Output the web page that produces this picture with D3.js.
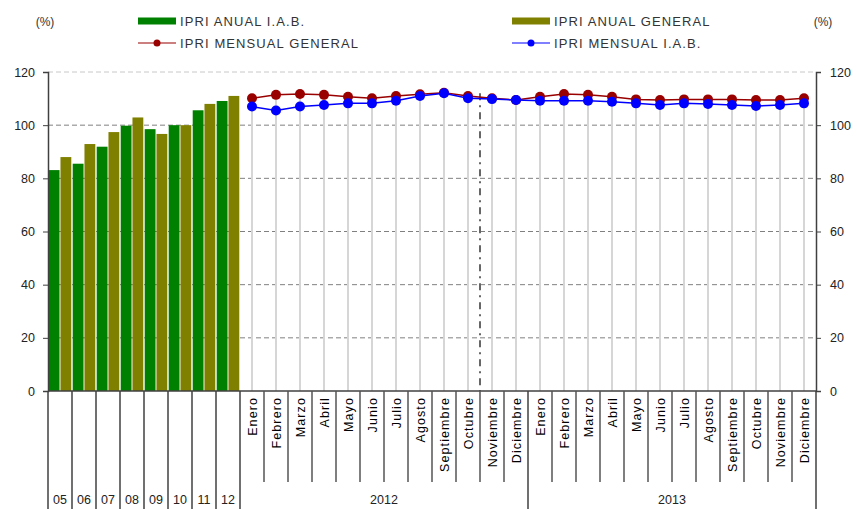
<!DOCTYPE html>
<html>
<head>
<meta charset="utf-8">
<script src="https://cdn.jsdelivr.net/npm/d3@7"></script>
<style>
  body { margin: 0; background: #fff; }
  svg { font-family: "Liberation Sans", Arial, sans-serif; }
  .axis path, .axis line { stroke: #404040; }
  .axis text { fill: #222; font-size: 12.5px; }
</style>
</head>
<body>
<div id="chart"></div>
<script>
// annual index, base 2010 = 100
const years = ["05", "06", "07", "08", "09", "10", "11", "12"];
const anualIAB = [83.1, 85.5, 91.9, 99.8, 98.5, 100, 105.6, 109.1];
const anualGeneral = [88.0, 92.9, 97.4, 102.9, 96.7, 100, 108.0, 111.0];

// monthly index 2012 - 2013
const monthNames = ["Enero", "Febrero", "Marzo", "Abril", "Mayo", "Junio", "Julio",
  "Agosto", "Septiembre", "Octubre", "Noviembre", "Diciembre"];
const periods = ["2012", "2013"];
const mensualGeneral = [110.1, 111.4, 111.7, 111.4, 110.7, 110.1, 111.0, 111.6, 112.2, 111.0, 110.1, 109.5,
  110.7, 111.7, 111.4, 110.7, 109.7, 109.5, 109.7, 109.7, 109.7, 109.5, 109.5, 110.1];
const mensualIAB = [107.0, 105.5, 107.0, 107.6, 108.2, 108.2, 109.2, 111.0, 112.0, 110.1, 109.8, 109.5,
  109.2, 109.2, 109.2, 108.8, 108.2, 107.6, 108.2, 108.0, 107.6, 107.2, 107.6, 108.2];
const yTicks = [0, 20, 40, 60, 80, 100, 120];

const width = 857, height = 509;
const margin = {top: 72, right: 41, bottom: 118, left: 48};

const svg = d3.select("#chart").append("svg")
    .attr("width", width)
    .attr("height", height);

const months = [];
periods.forEach(p => monthNames.forEach(m => months.push(m + " " + p)));
const slots = years.concat(months);

const x = d3.scaleBand()
    .domain(slots)
    .range([margin.left, width - margin.right]);
const y = d3.scaleLinear()
    .domain([0, 120])
    .range([height - margin.bottom, margin.top]);
const xSub = d3.scaleBand()
    .domain(["iab", "gen"])
    .range([0, x.bandwidth()])
    .paddingInner(0.08)
    .paddingOuter(0.06);

const x0 = margin.left, x1 = width - margin.right, yBase = y(0);

// gridlines
svg.append("g")
  .selectAll("line")
  .data(yTicks.filter(d => d > 0))
  .join("line")
    .attr("x1", x0).attr("x2", x1)
    .attr("y1", d => y(d)).attr("y2", d => y(d))
    .attr("stroke", d => d === 120 ? "#c8c8c8" : "#808080")
    .attr("stroke-width", 1)
    .attr("stroke-dasharray", "5,3");

// drop lines under monthly points
svg.append("g")
  .selectAll("line")
  .data(months)
  .join("line")
    .attr("x1", d => x(d) + x.bandwidth() / 2)
    .attr("x2", d => x(d) + x.bandwidth() / 2)
    .attr("y1", (d, i) => y(Math.max(mensualGeneral[i], mensualIAB[i])))
    .attr("y2", yBase)
    .attr("stroke", "#d6d6d6")
    .attr("stroke-width", 2);

// dash-dot separator between octubre and noviembre 2012
svg.append("line")
    .attr("x1", x("Noviembre 2012")).attr("x2", x("Noviembre 2012"))
    .attr("y1", y(112)).attr("y2", yBase)
    .attr("stroke", "#666")
    .attr("stroke-width", 2)
    .attr("stroke-dasharray", "7,5,2,5");

// annual bars
const bars = svg.append("g");
bars.selectAll("rect.iab")
  .data(anualIAB)
  .join("rect")
    .attr("class", "iab")
    .attr("x", (d, i) => x(years[i]) + xSub("iab"))
    .attr("width", xSub.bandwidth())
    .attr("y", d => y(d))
    .attr("height", d => yBase - y(d))
    .attr("fill", "#008000");
bars.selectAll("rect.gen")
  .data(anualGeneral)
  .join("rect")
    .attr("class", "gen")
    .attr("x", (d, i) => x(years[i]) + xSub("gen"))
    .attr("width", xSub.bandwidth())
    .attr("y", d => y(d))
    .attr("height", d => yBase - y(d))
    .attr("fill", "#808000");

// monthly lines
function drawSeries(values, color) {
  const line = d3.line()
      .x((d, i) => x(months[i]) + x.bandwidth() / 2)
      .y(d => y(d));
  svg.append("path")
      .datum(values)
      .attr("d", line)
      .attr("fill", "none")
      .attr("stroke", color)
      .attr("stroke-width", 1.5);
  svg.append("g")
    .selectAll("circle")
    .data(values)
    .join("circle")
      .attr("cx", (d, i) => x(months[i]) + x.bandwidth() / 2)
      .attr("cy", d => y(d))
      .attr("r", 5)
      .attr("fill", color);
}
drawSeries(mensualGeneral, "#990000");
drawSeries(mensualIAB, "#0000ff");

// axes
svg.append("g")
    .attr("class", "axis")
    .attr("transform", `translate(${x0},0)`)
    .call(d3.axisLeft(y).tickValues(yTicks).tickSize(5).tickPadding(8))
    .call(g => g.select(".domain").attr("stroke-width", 1.5));
svg.append("g")
    .attr("class", "axis")
    .attr("transform", `translate(${x1},0)`)
    .call(d3.axisRight(y).tickValues(yTicks).tickSize(5).tickPadding(9))
    .call(g => g.select(".domain").attr("stroke-width", 1.5));

svg.append("line")
    .attr("x1", x0).attr("x2", x1)
    .attr("y1", yBase).attr("y2", yBase)
    .attr("stroke", "#404040")
    .attr("stroke-width", 1.5);

// category separators below the axis
const sepLong = years.map(d => x(d)).concat([x(months[0]), x(months[12]), x1]);
const sepShort = months.filter((d, i) => i % 12 !== 0).map(d => x(d));
svg.append("g")
  .selectAll("line")
  .data(sepLong)
  .join("line")
    .attr("x1", d => d).attr("x2", d => d)
    .attr("y1", yBase).attr("y2", height)
    .attr("stroke", "#404040")
    .attr("stroke-width", 1.5);
svg.append("g")
  .selectAll("line")
  .data(sepShort)
  .join("line")
    .attr("x1", d => d).attr("x2", d => d)
    .attr("y1", yBase).attr("y2", 482)
    .attr("stroke", "#555")
    .attr("stroke-width", 1.5);

// month labels (rotated)
svg.append("g")
  .selectAll("text")
  .data(months)
  .join("text")
    .attr("transform", d => `translate(${x(d) + x.bandwidth() / 2 + 4.5},${yBase + 6}) rotate(-90)`)
    .attr("text-anchor", "end")
    .attr("font-size", 12.5)
    .attr("letter-spacing", 1.1)
    .attr("fill", "#000")
    .text(d => d.split(" ")[0]);

// year labels
svg.append("g")
  .selectAll("text")
  .data(years)
  .join("text")
    .attr("x", d => x(d) + x.bandwidth() / 2)
    .attr("y", 504)
    .attr("text-anchor", "middle")
    .attr("font-size", 12.5)
    .attr("fill", "#222")
    .text(d => d);
svg.append("g")
  .selectAll("text")
  .data(periods)
  .join("text")
    .attr("x", (p, i) => (x(months[i * 12]) + x(months[i * 12 + 11]) + x.bandwidth()) / 2)
    .attr("y", 504)
    .attr("text-anchor", "middle")
    .attr("font-size", 12.5)
    .attr("fill", "#222")
    .text(d => d);

// units
svg.append("text").attr("x", 45).attr("y", 26).attr("text-anchor", "middle")
    .attr("font-size", 12).attr("fill", "#333").text("(%)");
svg.append("text").attr("x", 823).attr("y", 26).attr("text-anchor", "middle")
    .attr("font-size", 12).attr("fill", "#333").text("(%)");

// legend
const legend = [
  {label: "IPRI ANUAL I.A.B.", color: "#008000", type: "bar", lx: 138, ly: 21},
  {label: "IPRI ANUAL GENERAL", color: "#808000", type: "bar", lx: 512, ly: 21},
  {label: "IPRI MENSUAL GENERAL", color: "#990000", type: "line", lx: 138, ly: 43},
  {label: "IPRI MENSUAL I.A.B.", color: "#0000ff", type: "line", lx: 512, ly: 43}
];
const lg = svg.append("g").selectAll("g").data(legend).join("g")
    .attr("transform", d => `translate(${d.lx},${d.ly})`);
lg.filter(d => d.type === "bar").append("rect")
    .attr("x", 0).attr("y", -3.5).attr("width", 38).attr("height", 7)
    .attr("fill", d => d.color);
lg.filter(d => d.type === "line").append("line")
    .attr("x1", 0).attr("x2", 38).attr("y1", 0).attr("y2", 0)
    .attr("stroke", d => d.color).attr("stroke-width", 1.2);
lg.filter(d => d.type === "line").append("circle")
    .attr("cx", 19).attr("cy", 0).attr("r", 3.5)
    .attr("fill", d => d.color);
lg.append("text")
    .attr("x", 42).attr("y", 4.5)
    .attr("font-size", 13)
    .attr("letter-spacing", 1.1)
    .attr("fill", "#333")
    .text(d => d.label);
</script>
</body>
</html>
